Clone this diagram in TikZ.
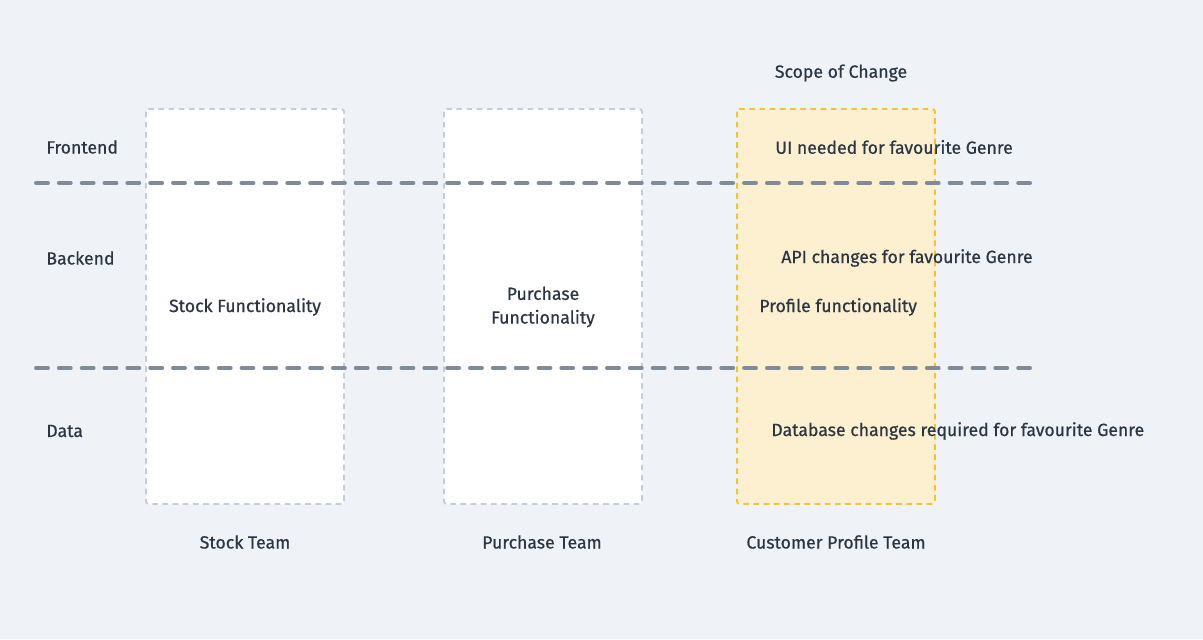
\documentclass[tikz,border=0pt]{standalone}
\usepackage{fontspec}
\setmainfont{Fira Sans}[FakeBold=0.6]
\usetikzlibrary{positioning}

\definecolor{bgcol}{HTML}{EFF3F7}
\definecolor{inkcol}{HTML}{2A3644}
\definecolor{laneline}{HTML}{7F8B99}
\definecolor{boxline}{HTML}{C5CED8}
\definecolor{scopeline}{HTML}{F5C32C}
\definecolor{scopefill}{HTML}{FDF0D1}

\tikzset{
	label/.style={font=\fontsize{10.05}{12.5}\selectfont, text=inkcol, inner sep=0pt},
	teambox/.style={draw=boxline, line width=1.1pt, dash pattern=on 3.2pt off 2.6pt, fill=white, rounded corners=1.5pt},
	scopebox/.style={draw=scopeline, line width=1.1pt, dash pattern=on 3.2pt off 2.6pt, fill=scopefill, rounded corners=1.5pt},
	divider/.style={draw=laneline, line width=2.2pt, line cap=round, dash pattern=on 6.8pt off 6.2pt}
}

\begin{document}
\begin{tikzpicture}[x=0.02cm,y=-0.02cm]
	\fill[bgcol] (0,0) rectangle (1203,639);
	\useasboundingbox (0,0) rectangle (1203,639);
	% team columns
	\draw[teambox] (146,109) rectangle (344,504);
	\draw[teambox] (444,109) rectangle (642,504);
	\draw[scopebox] (737,109) rectangle (935,504);
	% layer dividers
	\coordinate (top west) at (36,183);
	\coordinate (top east) at (1032,183);
	\coordinate (low west) at (36,368);
	\coordinate (low east) at (1032,368);
	\draw[divider] (top west) -- (top east);
	\draw[divider] (low west) -- (low east);
	% layers
	\node[label, anchor=west] (frontend) at (46,147) {Frontend};
	\node[label, anchor=west] (backend) at (46,258) {Backend};
	\node[label, anchor=west] (data) at (46,431) {Data};
	% column contents
	\node[label] (stockfn) at (245,307) {Stock Functionality};
	\node[label, align=center] (purchasefn) at (543,307) {Purchase\\[1pt]Functionality};
	\node[label, anchor=west] (profilefn) at (759,307) {Profile functionality};
	\node[label] (scope) at (841,73) {Scope of Change};
	\node[label, anchor=west] (uichange) at (775,147) {UI needed for favourite Genre};
	\node[label, anchor=west] (apichange) at (781,258) {API changes for favourite Genre};
	\node[label, anchor=west] (dbchange) at (771,431) {Database changes required for favourite Genre};
	% team names
	\node[label] (stockteam) at (245,542) {Stock Team};
	\node[label] (purchaseteam) at (542,542) {Purchase Team};
	\node[label] (profileteam) at (836,542) {Customer Profile Team};
\end{tikzpicture}
\end{document}
